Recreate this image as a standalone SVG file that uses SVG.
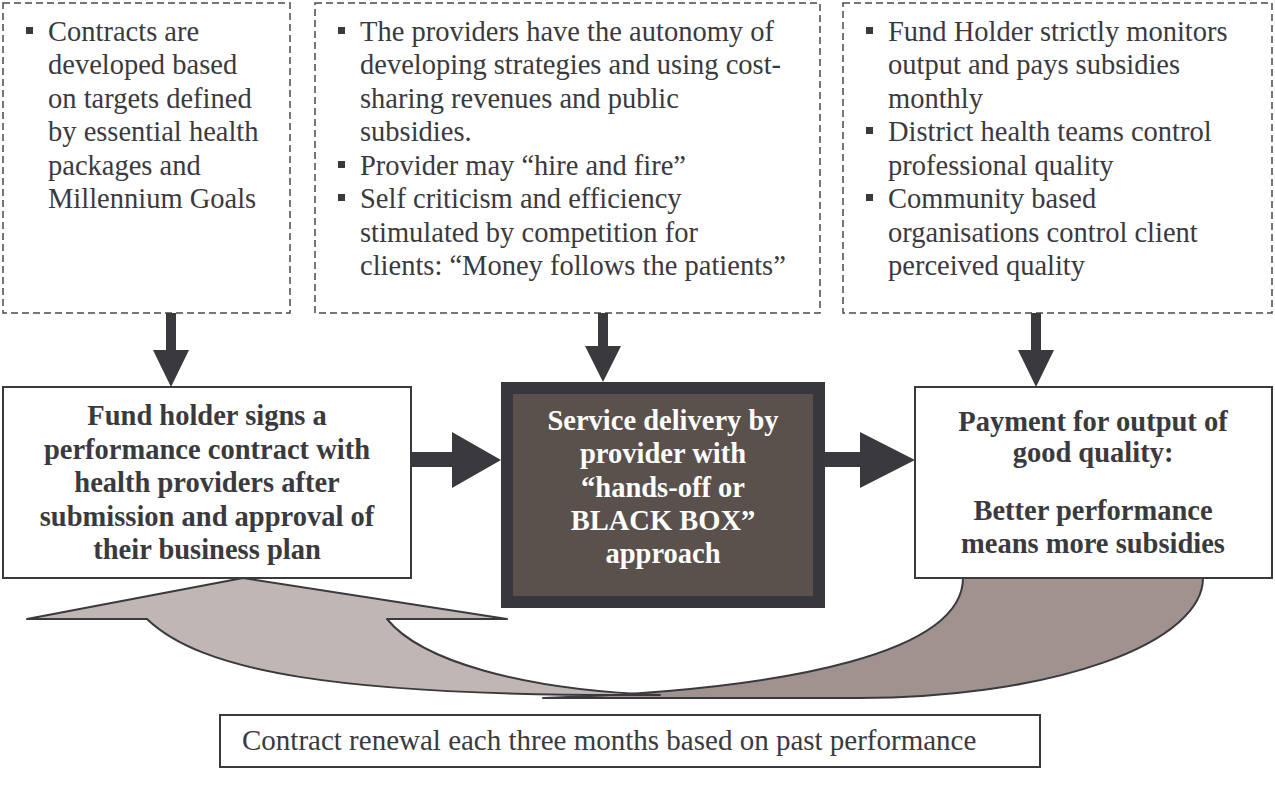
<svg xmlns="http://www.w3.org/2000/svg" width="1275" height="796" viewBox="0 0 1275 796">
<style>
.t{font-family:"Liberation Serif","Times New Roman",serif;font-size:28.5px;fill:#3a3a3e}
.b{font-family:"Liberation Serif","Times New Roman",serif;font-size:28.5px;font-weight:bold;fill:#3a3a3e;text-anchor:middle}
.w{fill:#ffffff}
.dash{fill:#fff;stroke:#4a4a4e;stroke-width:1.5;stroke-dasharray:7 4}
.box{fill:#fff;stroke:#3a3a3e;stroke-width:2}
.arr{fill:#3a393d}
.bul{fill:#3a3a3e}
.curve{stroke:#3a3a3e;stroke-width:2;stroke-linejoin:round}
</style>
<rect width="1275" height="796" fill="#fff"/>

<g id="note1">
<rect class="dash" x="3" y="3" width="287" height="310"/>
<rect class="bul" x="26" y="27" width="7" height="7"/>
<text class="t" x="48" y="41">Contracts are</text>
<text class="t" x="48" y="74">developed based</text>
<text class="t" x="48" y="108">on targets defined</text>
<text class="t" x="48" y="141">by essential health</text>
<text class="t" x="48" y="175">packages and</text>
<text class="t" x="48" y="208">Millennium Goals</text>
</g>

<g id="note2">
<rect class="dash" x="315" y="3" width="505" height="310"/>
<rect class="bul" x="338" y="27" width="7" height="7"/>
<text class="t" x="360" y="41">The providers have the autonomy of</text>
<text class="t" x="360" y="74">developing strategies and using cost-</text>
<text class="t" x="360" y="108">sharing revenues and public</text>
<text class="t" x="360" y="141">subsidies.</text>
<rect class="bul" x="338" y="161" width="7" height="7"/>
<text class="t" x="360" y="175">Provider may “hire and fire”</text>
<rect class="bul" x="338" y="194" width="7" height="7"/>
<text class="t" x="360" y="208">Self criticism and efficiency</text>
<text class="t" x="360" y="242">stimulated by competition for</text>
<text class="t" x="360" y="275">clients: “Money follows the patients”</text>
</g>

<g id="note3">
<rect class="dash" x="843" y="3" width="429" height="310"/>
<rect class="bul" x="866" y="27" width="7" height="7"/>
<text class="t" x="888" y="41">Fund Holder strictly monitors</text>
<text class="t" x="888" y="74">output and pays subsidies</text>
<text class="t" x="888" y="108">monthly</text>
<rect class="bul" x="866" y="127" width="7" height="7"/>
<text class="t" x="888" y="141">District health teams control</text>
<text class="t" x="888" y="175">professional quality</text>
<rect class="bul" x="866" y="194" width="7" height="7"/>
<text class="t" x="888" y="208">Community based</text>
<text class="t" x="888" y="242">organisations control client</text>
<text class="t" x="888" y="275">perceived quality</text>
</g>

<g id="loop">
<path class="curve" fill="#a0928e" d="M963,578 L1203,578 A343,120 0 0 1 860,698 L543,698 C800,690 963,650 963,578 Z"/>
<path class="curve" fill="#c0b7b4" d="M243,578 L507,619 L387,619 C420,660 520,690 660,695 C330,697 200,670 147,619 L27,619 Z"/>
</g>

<g id="fundholder">
<rect class="box" x="3" y="387" width="408" height="191"/>
<text class="b" x="207" y="425">Fund holder signs a</text>
<text class="b" x="207" y="459">performance contract with</text>
<text class="b" x="207" y="492">health providers after</text>
<text class="b" x="207" y="526">submission and approval of</text>
<text class="b" x="207" y="559">their business plan</text>
</g>

<g id="service">
<rect x="507" y="388" width="312" height="214" fill="#5a514d" stroke="#38373b" stroke-width="12"/>
<text class="b w" x="663" y="430">Service delivery by</text>
<text class="b w" x="663" y="463">provider with</text>
<text class="b w" x="663" y="497">“hands-off or</text>
<text class="b w" x="663" y="530">BLACK BOX”</text>
<text class="b w" x="663" y="563">approach</text>
</g>

<g id="payment">
<rect class="box" x="915" y="387" width="357" height="191"/>
<text class="b" x="1093" y="431">Payment for output of</text>
<text class="b" x="1093" y="462">good quality:</text>
<text class="b" x="1093" y="520">Better performance</text>
<text class="b" x="1093" y="553">means more subsidies</text>
</g>

<g id="renewal">
<rect class="box" x="220" y="715" width="820" height="52"/>
<text class="t" x="242" y="750" style="font-size:29px">Contract renewal each three months based on past performance</text>
</g>

<g id="connectors">
<path class="arr" d="M166,313 H176 V350 H189 L171,387 L153,350 H166 Z"/>
<path class="arr" d="M598,313 H608 V346 H621 L603,382 L585,346 H598 Z"/>
<path class="arr" d="M1031,313 H1041 V350 H1054 L1036,387 L1018,350 H1031 Z"/>
<path class="arr" d="M411,452 H452 V432 L501,460 L452,488 V467 H411 Z"/>
<path class="arr" d="M825,452 H860 V432 L915,460 L860,488 V467 H825 Z"/>
</g>
</svg>
